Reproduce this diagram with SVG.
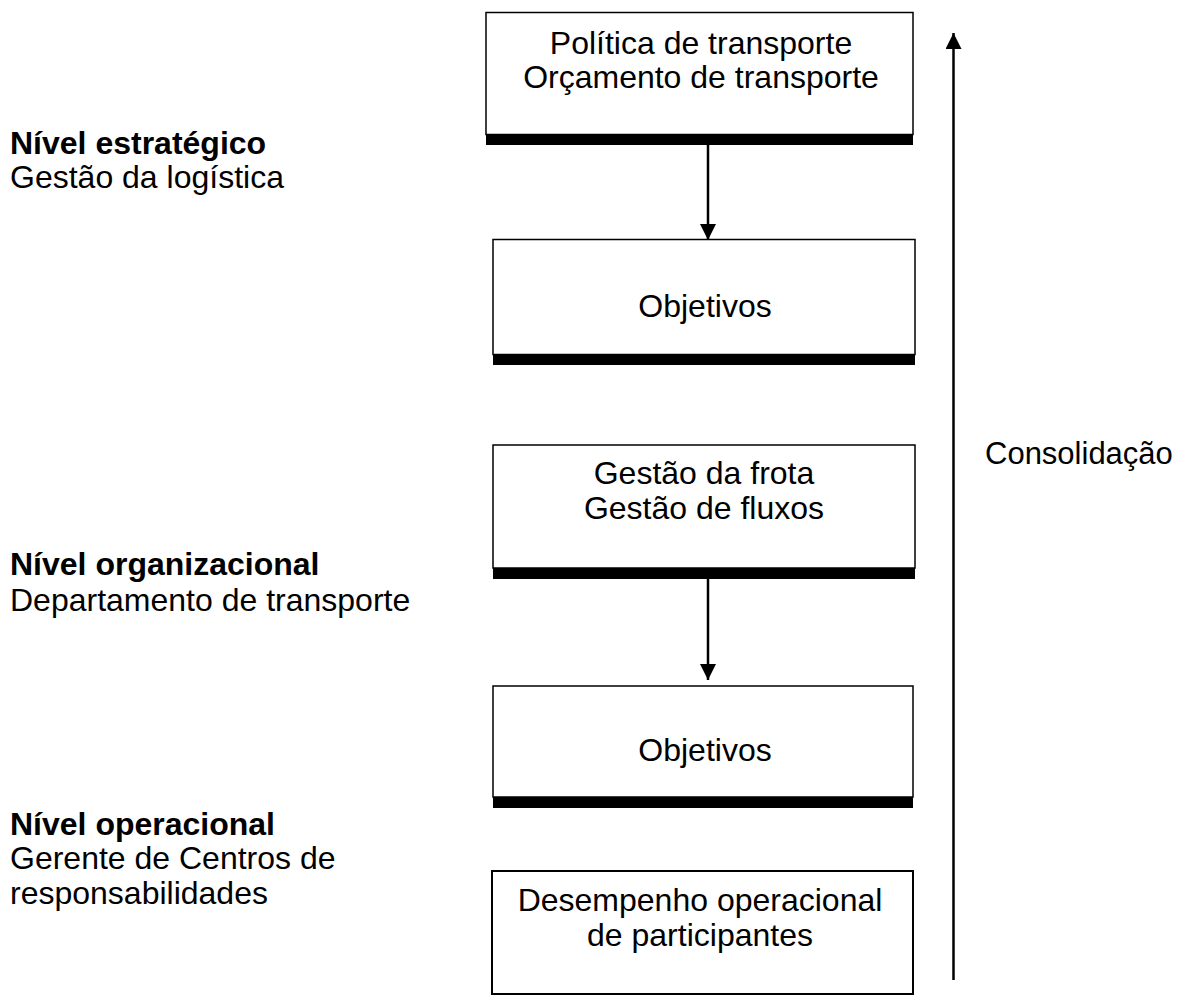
<svg xmlns="http://www.w3.org/2000/svg" width="1179" height="997" viewBox="0 0 1179 997">
<style>
text{font-family:"Liberation Sans",Arial,sans-serif;font-size:32px;fill:#000}
.b{font-weight:bold}
.c{text-anchor:middle}
.box{fill:#fff;stroke:#000;stroke-width:1.5}
.bar{fill:#000}
.ln{stroke:#000;stroke-width:2.5;fill:none}
</style>
<defs>
<marker id="ah" viewBox="0 0 16 16" refX="16" refY="8" markerWidth="16" markerHeight="16" markerUnits="userSpaceOnUse" orient="auto">
<path d="M0,0 L16,8 L0,16 Z" fill="#000"/>
</marker>
</defs>
<g id="labels">
<text x="10" y="154" class="b">Nível estratégico</text>
<text x="10" y="188">Gestão da logística</text>
<text x="10" y="575" class="b">Nível organizacional</text>
<text x="10" y="611">Departamento de transporte</text>
<text x="10" y="835" class="b">Nível operacional</text>
<text x="10" y="869">Gerente de Centros de</text>
<text x="10" y="904">responsabilidades</text>
<text x="985" y="464" style="font-size:31px">Consolidação</text>
</g>
<g id="n1">
<rect class="box" x="486" y="12.5" width="427" height="122"/>
<rect class="bar" x="486" y="134" width="427" height="11"/>
<text x="701" y="54" class="c">Política de transporte</text>
<text x="701" y="88" class="c">Orçamento de transporte</text>
</g>
<g id="n2">
<rect class="box" x="493" y="239.5" width="422" height="115"/>
<rect class="bar" x="493" y="354" width="422" height="11"/>
<text x="705" y="317" class="c">Objetivos</text>
</g>
<g id="n3">
<rect class="box" x="493" y="445" width="422" height="123"/>
<rect class="bar" x="493" y="568" width="422" height="11"/>
<text x="704" y="484" class="c">Gestão da frota</text>
<text x="704" y="519" class="c">Gestão de fluxos</text>
</g>
<g id="n4">
<rect class="box" x="493" y="686" width="420" height="111"/>
<rect class="bar" x="493" y="797" width="420" height="11"/>
<text x="705" y="761" class="c">Objetivos</text>
</g>
<g id="n5">
<rect class="box" x="492" y="871" width="421" height="123" style="stroke-width:2"/>
<text x="700" y="911" class="c">Desempenho operacional</text>
<text x="700" y="946" class="c">de participantes</text>
</g>
<g id="connectors">
<line class="ln" x1="708" y1="145" x2="708" y2="240" marker-end="url(#ah)"/>
<line class="ln" x1="708" y1="579" x2="708" y2="680" marker-end="url(#ah)"/>
<line class="ln" x1="953.5" y1="980" x2="953.5" y2="33" marker-end="url(#ah)"/>
</g>
</svg>
